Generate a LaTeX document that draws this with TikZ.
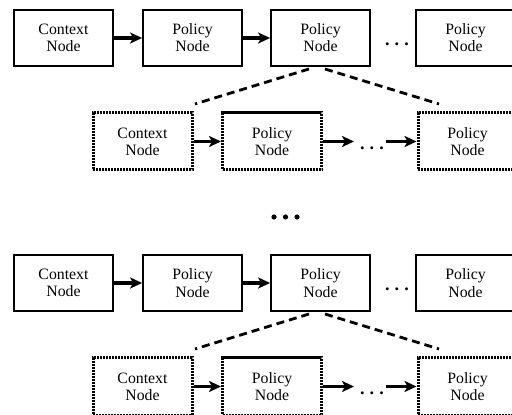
\documentclass[tikz,border=0pt]{standalone}
\usepackage{fontspec}
\setmainfont{Liberation Serif}
\usetikzlibrary{arrows.meta}
\tikzset{
  box/.style={draw, line width=0.9pt, minimum width=49.5pt, minimum height=28pt,
    inner sep=0pt, align=center, font=\fontsize{7.9}{8.6}\selectfont},
  subbox/.style={box, line width=1.5pt, dash pattern=on 1.1pt off 0.4pt},
  link/.style={line width=1.8pt, -{Stealth[length=6pt,width=5.5pt,inset=1.5pt]}},
  zoomline/.style={line width=1.4pt, dash pattern=on 4pt off 2.5pt},
  more/.style={inner sep=0pt, font=\fontsize{9}{9}\bfseries},
}
\newcommand{\gap}{.\hspace{2.6pt}.\hspace{2.6pt}.}
\begin{document}
\begin{tikzpicture}[x=0.5pt,y=-0.5pt]
\useasboundingbox (0,0) rectangle (512,415);
\foreach \dy/\h in {0/t,245/b}{
  % main chain
  \node[box] (\h ctx) at (63.5,38+\dy) {Context\\Node};
  \node[box] (\h p1) at (192.5,38+\dy) {Policy\\Node};
  \node[box] (\h p2) at (320.5,38+\dy) {Policy\\Node};
  \node[box] (\h p3) at (465.5,38+\dy) {Policy\\Node};
  \node[more] (\h d1) at (397,44+\dy) {\gap};
  \draw[link] (\h ctx) -- (\h p1);
  \draw[link] (\h p1) -- (\h p2);
  % expanded chain
  \node[subbox, minimum height=28.5pt] (\h sctx) at (142.5,141.5+\dy) {Context\\Node};
  \node[subbox, minimum height=28.5pt] (\h sp1) at (272,141.5+\dy) {Policy\\Node};
  \node[subbox, minimum height=28.5pt] (\h sp2) at (467.5,141.5+\dy) {Policy\\Node};
  \node[more] (\h d2) at (372,148+\dy) {\gap};
  \draw[link] (\h sctx) -- (\h sp1);
  \draw[link] (\h sp1.east) -- ++(31,0);
  \draw[link] (\h sp2.west) ++(-31,0) -- (\h sp2.west);
  % zoom lines
  \coordinate (\h zl) at (195,104+\dy);
  \coordinate (\h zr) at (439,104+\dy);
  \draw[zoomline] (309,69+\dy) -- (\h zl);
  \draw[zoomline] (325,69+\dy) -- (\h zr);
}
\foreach \x in {274,285.5,297}
  \fill (\x,217) circle (2.6);
\end{tikzpicture}
\end{document}
